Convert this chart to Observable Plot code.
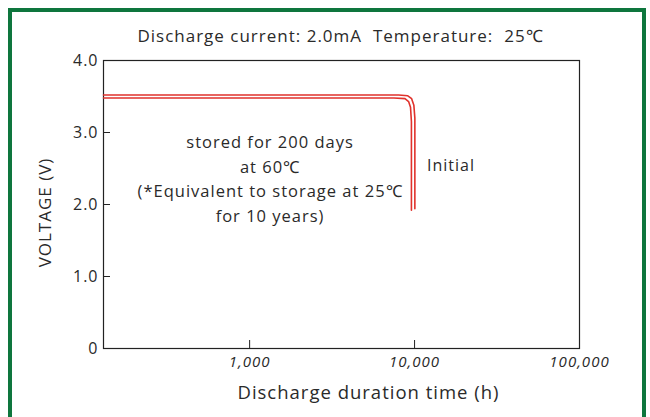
<!DOCTYPE html>
<html>
<head>
<meta charset="utf-8">
<script src="https://cdn.jsdelivr.net/npm/d3@7"></script>
<script src="https://cdn.jsdelivr.net/npm/@observablehq/plot@0.6"></script>
<style>
  html, body { margin: 0; padding: 0; background: #fff; }
  #wrap { position: relative; width: 650px; height: 417px; overflow: hidden; }
  #border { position: absolute; left: 8px; top: 8px; width: 630px; height: 430px; border: 4px solid #0e763d; box-sizing: content-box; }
  #chart { position: absolute; left: 0; top: 0; }
  #chart svg text { letter-spacing: 1px; }
</style>
</head>
<body>
<div id="wrap"><div id="border"></div><div id="chart"></div></div>
<script>
const titleText = "Discharge current: 2.0mA  Temperature:  25℃";
const xLabel = "Discharge duration time (h)";
const yLabel = "VOLTAGE (V)";
const xTicks = [1000, 10000, 100000];
const yTicks = [0, 1, 2, 3, 4];

// Initial curve
const initialHours = [130, 8000, 9100, 9600, 9900, 10040, 10040];
const initialVolts = [3.52, 3.52, 3.51, 3.47, 3.38, 3.2, 1.94];
// After storage 200 days at 60℃
const storedHours = [130, 7500, 8750, 9200, 9450, 9570, 9570];
const storedVolts = [3.48, 3.48, 3.47, 3.43, 3.35, 3.15, 1.92];

const storedLabel = "stored for 200 days\nat 60℃\n(*Equivalent to storage at 25℃\nfor 10 years)";
const initialLabel = "Initial";

const rows = [
  ...initialHours.map((h, i) => ({series: "Initial", h, v: initialVolts[i]})),
  ...storedHours.map((h, i) => ({series: "Stored", h, v: storedVolts[i]}))
];

const font = "'Open Sans', sans-serif";
const ink = "#2a2a2a";
const red = "#e0322c";

const chart = Plot.plot({
  width: 650,
  height: 417,
  marginLeft: 103,
  marginRight: 71,
  marginTop: 60,
  marginBottom: 69,
  style: {fontFamily: font, background: "transparent", color: ink},
  x: {type: "log", domain: [130, 100000]},
  y: {domain: [0, 4]},
  marks: [
    Plot.frame({stroke: "#222", strokeWidth: 1.2}),
    Plot.axisX({ticks: xTicks, tickSize: 0, tickPadding: 8, tickFormat: d => d3.format(",")(d), label: null, fontSize: 15, fontStyle: "italic", fill: ink}),
    Plot.axisX({ticks: xTicks, tickSize: 8, dy: -8, tickFormat: () => "", label: null, stroke: "#222"}),
    Plot.axisY({ticks: yTicks, tickSize: 0, tickPadding: 5, tickFormat: d => d === 0 ? "0" : d.toFixed(1), label: null, fontSize: 16, fill: ink}),
    Plot.axisY({ticks: yTicks, tickSize: 7, dx: 7, tickFormat: () => "", label: null, stroke: "#222"}),
    Plot.line(rows, {x: "h", y: "v", z: "series", stroke: red, strokeWidth: 1.6, curve: "linear"}),
    Plot.text([storedLabel], {x: 1330, y: 2.38, text: d => d, fontSize: 16.5, lineHeight: 1.48, fill: ink, textAnchor: "middle"}),
    Plot.text([initialLabel], {x: 11900, y: 2.54, text: d => d, fontSize: 16, fill: ink, textAnchor: "start"}),
    Plot.text([titleText], {frameAnchor: "top", dx: -1, dy: -24, text: d => d, fontSize: 17, fill: ink, textAnchor: "middle", lineAnchor: "middle"}),
    Plot.text([xLabel], {frameAnchor: "bottom", dx: 27, dy: 45, text: d => d, fontSize: 18.5, fill: ink, textAnchor: "middle", lineAnchor: "middle"}),
    Plot.text([yLabel], {frameAnchor: "left", dx: -58, dy: 8, rotate: -90, text: d => d, fontSize: 17, fill: ink, textAnchor: "middle", lineAnchor: "middle"})
  ]
});
document.getElementById("chart").appendChild(chart);
</script>
</body>
</html>
